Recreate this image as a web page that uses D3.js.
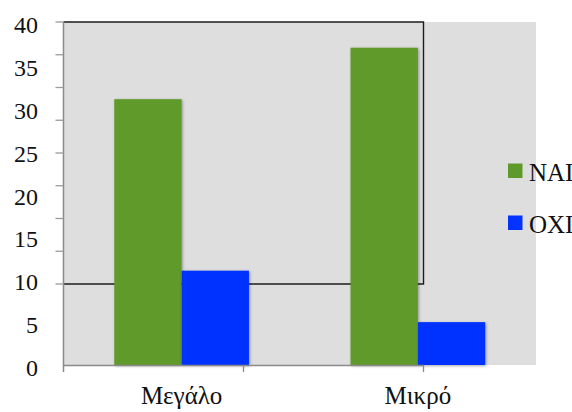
<!DOCTYPE html>
<html>
<head>
<meta charset="utf-8">
<script src="https://cdn.jsdelivr.net/npm/d3@7"></script>
<style>
  html, body { margin: 0; padding: 0; background: #ffffff; }
  svg { display: block; }
  text { font-family: "Liberation Serif", "DejaVu Serif", serif; fill: #111; }
</style>
</head>
<body>
<svg id="chart" width="572" height="412"></svg>
<script>
// ---- data ----
const categories = ["Μεγάλο", "Μικρό"];
const seriesNames = ["NAI", "OXI"];
const naiValues = [31, 37];
const oxiValues = [11, 5];
const yTickLabels = [0, 5, 10, 15, 20, 25, 30, 35, 40];
const seriesColors = ["#5E9A29", "#0433FF"];

const table = categories.map((c, i) => ({ category: c, values: [naiValues[i], oxiValues[i]] }));

// ---- layout ----
const W = 572, H = 412;
const plot = { left: 63.5, right: 536, top: 22, bottom: 365 };
const ghost = { right: 423.5, bottom: 284 };

const svg = d3.select("#chart");

const defs = svg.append("defs");
const f = defs.append("filter").attr("id", "shadow")
  .attr("x", "-10%").attr("y", "-10%").attr("width", "130%").attr("height", "130%");
f.append("feDropShadow").attr("dx", 1).attr("dy", 1).attr("stdDeviation", 1.6)
  .attr("flood-color", "#000").attr("flood-opacity", 0.35);

// scales
const y = d3.scaleLinear().domain([0, 40]).range([plot.bottom, plot.top]);
const yGhost = d3.scaleLinear().domain([0, 40]).range([ghost.bottom, plot.top]);
const x0 = d3.scaleBand().domain(categories).range([plot.left, plot.right])
  .paddingInner(0.43).paddingOuter(0.215);
const x1 = d3.scaleBand().domain(seriesNames).range([0, x0.bandwidth()]);
const xGhost = d3.scaleBand().domain(categories).range([plot.left, ghost.right]);

// plot background
svg.append("rect")
  .attr("x", plot.left).attr("y", plot.top)
  .attr("width", plot.right - plot.left).attr("height", plot.bottom - plot.top)
  .attr("fill", "#DEDEDE");

// ghost frame (top, right, bottom lines)
svg.append("path")
  .attr("d", `M${plot.left},${yGhost(40)}H${ghost.right}V${yGhost(0)}H${plot.left}`)
  .attr("fill", "none").attr("stroke", "#1c1c1c").attr("stroke-width", 1.4);

// bars
const groups = svg.append("g").selectAll("g").data(table).join("g")
  .attr("transform", d => `translate(${x0(d.category)},0)`);
groups.selectAll("rect")
  .data(d => d.values.map((v, i) => ({ key: seriesNames[i], value: v, i })))
  .join("rect")
  .attr("x", d => x1(d.key))
  .attr("y", d => y(d.value))
  .attr("width", x1.bandwidth())
  .attr("height", d => y(0) - y(d.value))
  .attr("fill", d => seriesColors[d.i])
  .attr("filter", "url(#shadow)");

// y axis line
svg.append("line")
  .attr("x1", plot.left).attr("x2", plot.left)
  .attr("y1", plot.top).attr("y2", plot.bottom + 7)
  .attr("stroke", "#8a8a8a").attr("stroke-width", 1.5);

// y ticks (ghost scale)
svg.append("g").selectAll("line").data(yTickLabels).join("line")
  .attr("x1", plot.left - 8).attr("x2", plot.left)
  .attr("y1", d => yGhost(d)).attr("y2", d => yGhost(d))
  .attr("stroke", "#9a9a9a").attr("stroke-width", 1.3);

// y labels (real scale)
svg.append("g").selectAll("text").data(yTickLabels).join("text")
  .attr("x", 38).attr("y", d => y(d) + 11)
  .attr("text-anchor", "end")
  .attr("font-size", 24)
  .text(d => d);

// x axis line
svg.append("line")
  .attr("x1", plot.left).attr("x2", ghost.right)
  .attr("y1", plot.bottom + 0.5).attr("y2", plot.bottom + 0.5)
  .attr("stroke", "#8a8a8a").attr("stroke-width", 1.3);

// x ticks (ghost band boundaries)
const xTickPos = categories.map(c => xGhost(c) + xGhost.bandwidth());
svg.append("g").selectAll("line").data(xTickPos).join("line")
  .attr("x1", d => d).attr("x2", d => d)
  .attr("y1", plot.bottom).attr("y2", plot.bottom + 7)
  .attr("stroke", "#8a8a8a").attr("stroke-width", 1.3);

// x labels
svg.append("g").selectAll("text").data(categories).join("text")
  .attr("x", d => x0(d) + x0.bandwidth() / 2)
  .attr("y", 404)
  .attr("text-anchor", "middle")
  .attr("font-size", 25)
  .text(d => d);

// legend
const legend = svg.append("g").selectAll("g").data(seriesNames).join("g")
  .attr("transform", (d, i) => `translate(508,${163.5 + i * 52})`);
legend.append("rect").attr("width", 14.5).attr("height", 14.5)
  .attr("fill", (d, i) => seriesColors[i]);
legend.append("text").attr("x", 21).attr("y", 17.5)
  .attr("font-size", 25)
  .text(d => d);
</script>
</body>
</html>
